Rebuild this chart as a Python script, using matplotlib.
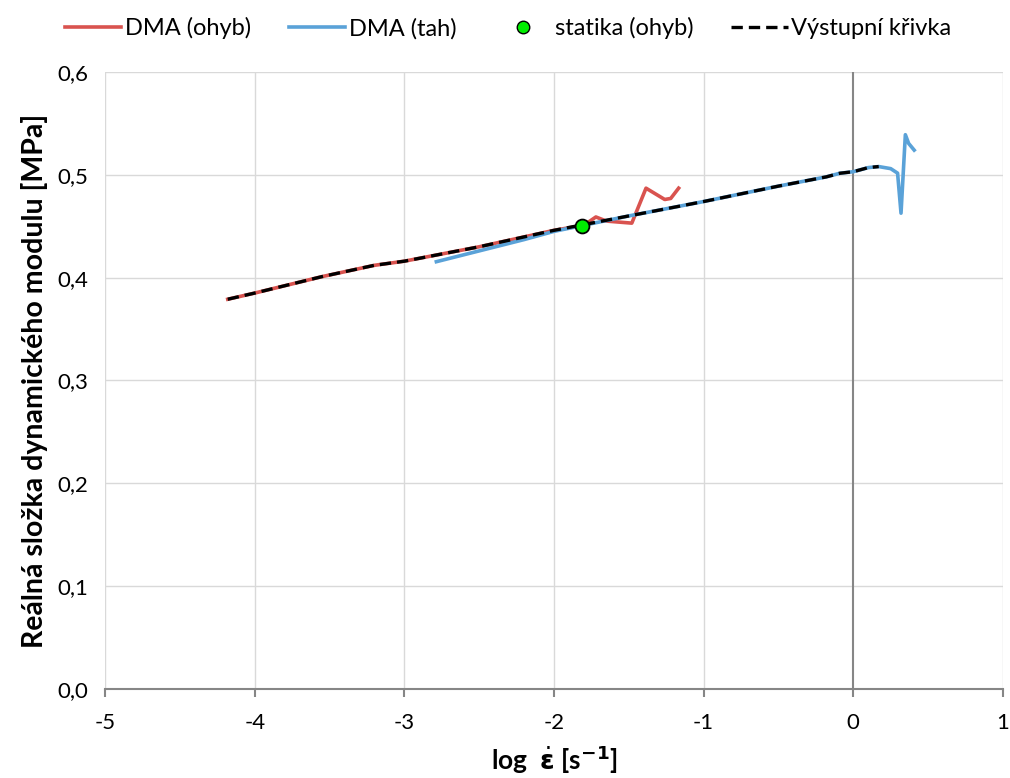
import matplotlib
matplotlib.use("Agg")
import matplotlib.pyplot as plt
from matplotlib.lines import Line2D

plt.rcParams['font.family'] = ['Lato', 'DejaVu Sans']

# Data
out_x = [-4.18, -4.0, -3.55, -3.2, -3.0, -2.5, -2.0, -1.5, -1.0, -0.5, -0.18, -0.09, 0.0, 0.1, 0.17]
out_y = [0.379, 0.385, 0.401, 0.412, 0.416, 0.430, 0.446, 0.460, 0.474, 0.489, 0.498, 0.5015, 0.503, 0.507, 0.508]

ohyb_x = [-4.18, -4.0, -3.55, -3.2, -3.0, -2.5, -2.0, -1.8, -1.72, -1.65, -1.48, -1.385, -1.26, -1.22, -1.167]
ohyb_y = [0.379, 0.385, 0.401, 0.412, 0.416, 0.430, 0.446, 0.451, 0.459, 0.455, 0.453, 0.487, 0.476, 0.477, 0.487]

tah_x = [-2.786, -2.5, -2.2, -2.0, -1.5, -1.0, -0.5, -0.18, -0.09, 0.0, 0.1, 0.17, 0.25, 0.296, 0.319, 0.348, 0.37, 0.407]
tah_y = [0.4155, 0.426, 0.437, 0.445, 0.460, 0.474, 0.489, 0.498, 0.5015, 0.503, 0.507, 0.508, 0.506, 0.5016, 0.4627, 0.539, 0.5305, 0.524]

stat_x = [-1.81]
stat_y = [0.450]

x_ticks = [-5, -4, -3, -2, -1, 0, 1]
y_ticks = [0.0, 0.1, 0.2, 0.3, 0.4, 0.5, 0.6]
y_labels = ['0,0', '0,1', '0,2', '0,3', '0,4', '0,5', '0,6']

red = '#d9534f'
blue = '#5aa2d8'

fig = plt.figure(figsize=(10.10, 7.78), dpi=100)
ax = fig.add_axes([0.104, 0.1144, 0.889, 0.7931])

ax.set_xlim(-5, 1)
ax.set_ylim(0, 0.6)

for xv in x_ticks:
    if xv != 0:
        ax.axvline(xv, color='#d9d9d9', lw=1.0, zorder=0)
for yv in y_ticks[1:]:
    ax.axhline(yv, color='#d9d9d9', lw=1.0, zorder=0)
ax.axvline(0, color='#868686', lw=1.5, zorder=1)

for s in ['top', 'right', 'left']:
    ax.spines[s].set_visible(False)
ax.spines['bottom'].set_color('#868686')
ax.spines['bottom'].set_linewidth(1.5)

ax.plot(ohyb_x, ohyb_y, color=red, lw=2.6, solid_joinstyle='round', zorder=3)
ax.plot(tah_x, tah_y, color=blue, lw=2.6, solid_joinstyle='round', zorder=3)
ax.plot(out_x, out_y, color='black', lw=2.4, dashes=(3.4, 1.8), zorder=4)
ax.plot(stat_x, stat_y, 'o', color='#00ee00', markeredgecolor='black', markersize=10, markeredgewidth=1.3, zorder=5)

ax.set_xticks(x_ticks)
ax.set_xticklabels([str(v) for v in x_ticks], fontsize=16)
ax.set_yticks(y_ticks)
ax.set_yticklabels(y_labels, fontsize=16)
ax.tick_params(axis='x', direction='out', length=6, width=1.5, color='#868686', pad=11)
ax.tick_params(axis='y', length=0, pad=12)

ax.set_ylabel('Reálná složka dynamického modulu [MPa]', fontsize=20.5, fontweight='bold', labelpad=7)
ax.set_xlabel(r'log  $\dot{\mathbf{\varepsilon}}$ [s$^{\mathbf{-1}}$]', fontsize=19, fontweight='bold', labelpad=8)

handles = [
    Line2D([], [], color=red, lw=2.6),
    Line2D([], [], color=blue, lw=2.6),
    Line2D([], [], ls='none', marker='o', color='#00ee00', markeredgecolor='black', markersize=9),
    Line2D([], [], color='black', lw=2.4, dashes=(3.4, 1.8)),
]
labels = ['DMA (ohyb)', 'DMA (tah)', 'statika (ohyb)', 'Výstupní křivka']
fig.legend(handles, labels, loc='upper center', bbox_to_anchor=(0.503, 1.005), ncol=4,
           frameon=False, fontsize=17, handlelength=2.4, handletextpad=0.15, columnspacing=1.6)

fig.savefig('out.png', dpi=100)
